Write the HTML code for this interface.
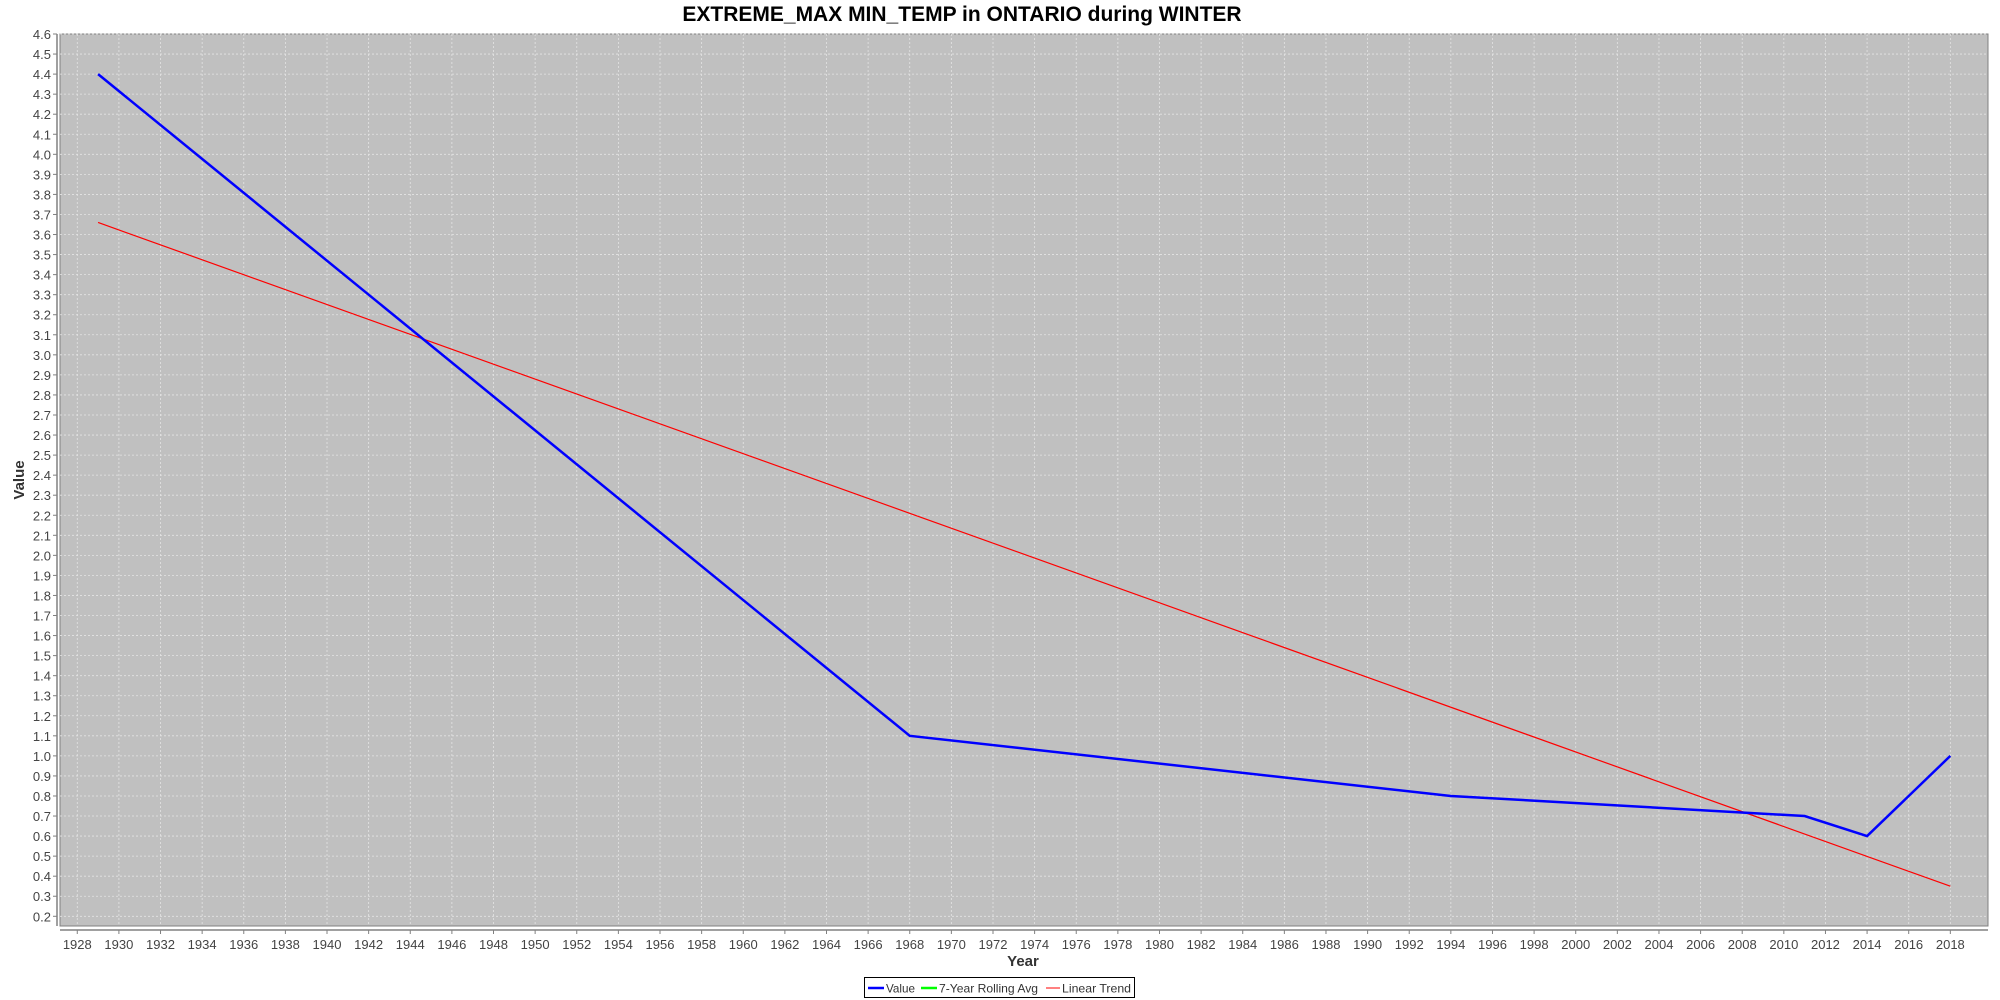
<!DOCTYPE html>
<html><head><meta charset="utf-8"><style>
html,body{margin:0;padding:0;background:#fff;}
svg{display:block;font-family:"Liberation Sans","DejaVu Sans",sans-serif;}
</style></head><body>
<svg id="chart" width="2000" height="1000">
<text x="962" y="21" text-anchor="middle" font-size="21" font-weight="bold" fill="#000">EXTREME_MAX MIN_TEMP in ONTARIO during WINTER</text>
<rect x="60" y="34" width="1928" height="892" fill="#c0c0c0" stroke="#808080" stroke-width="1"/>
<g id="grid"></g>
<line x1="57" y1="34" x2="57" y2="926" stroke="#808080" stroke-width="1.5"/>
<line x1="60" y1="930" x2="1988" y2="930" stroke="#808080" stroke-width="1.5"/>
<g id="yticks"></g><g id="xticks"></g><g id="series"></g>
<text x="1023" y="966" text-anchor="middle" font-size="15" font-weight="bold" fill="#333">Year</text>
<text transform="translate(24,480) rotate(-90)" text-anchor="middle" font-size="15" font-weight="bold" fill="#333">Value</text>
<g>
<rect x="864.5" y="977.5" width="270" height="20" fill="#fff" stroke="#000" stroke-width="1"/>
<g><line x1="868" y1="988" x2="884" y2="988" stroke="#0000ff" stroke-width="2.5"/><text x="886" y="992.5" font-size="12" fill="#333" textLength="29" lengthAdjust="spacingAndGlyphs">Value</text></g>
<g><line x1="921" y1="988" x2="937" y2="988" stroke="#00ff00" stroke-width="2.5"/><text x="939" y="992.5" font-size="12" fill="#333" textLength="99" lengthAdjust="spacingAndGlyphs">7-Year Rolling Avg</text></g>
<g><line x1="1046" y1="988" x2="1060" y2="988" stroke="#ff0000" stroke-width="1"/><text x="1062" y="992.5" font-size="12" fill="#333" textLength="69" lengthAdjust="spacingAndGlyphs">Linear Trend</text></g>
</g>
</svg>
<script>
const years=[1929,1968,1994,2011,2014,2018];
const values=[4.4,1.1,0.8,0.7,0.6,1.0];
const trendYears=[1929,2018];
const trendValues=[3.66,0.35];
const yTickLabels=["0.2","0.3","0.4","0.5","0.6","0.7","0.8","0.9","1.0","1.1","1.2","1.3","1.4","1.5","1.6","1.7","1.8","1.9","2.0","2.1","2.2","2.3","2.4","2.5","2.6","2.7","2.8","2.9","3.0","3.1","3.2","3.3","3.4","3.5","3.6","3.7","3.8","3.9","4.0","4.1","4.2","4.3","4.4","4.5","4.6"];
const xTickLabels=[];for(let y=1928;y<=2018;y+=2)xTickLabels.push(String(y));
const NS="http://www.w3.org/2000/svg";
const X0=60,X1=1988,Y0=926,Y1=34,xmin=1927.17,xmax=2019.81,ymin=0.1516,ymax=4.6;
function xs(v){return X0+(v-xmin)/(xmax-xmin)*(X1-X0);}
function ys(v){return Y0-(v-ymin)/(ymax-ymin)*(Y0-Y1);}
function mk(tag,attrs,parent){const e=document.createElementNS(NS,tag);for(const k in attrs)e.setAttribute(k,attrs[k]);parent.appendChild(e);return e;}
const grid=document.getElementById('grid'),yt=document.getElementById('yticks'),xt=document.getElementById('xticks'),ser=document.getElementById('series');
yTickLabels.forEach(l=>{const y=ys(parseFloat(l));
const g=mk('line',{x1:X0,x2:X1,y1:y,y2:y,stroke:'#e4e4e4','stroke-width':0.8,'stroke-dasharray':'2,2'},grid);


mk('line',{x1:53,x2:57,y1:y,y2:y,stroke:'#808080'},yt);
const t=mk('text',{x:51,y:y+5,'text-anchor':'end','font-size':13,fill:'#444'},yt);t.textContent=l;


});
xTickLabels.forEach(l=>{const x=xs(parseFloat(l));
const g=mk('line',{x1:x,x2:x,y1:Y1,y2:Y0,stroke:'#e4e4e4','stroke-width':0.8,'stroke-dasharray':'2,2'},grid);


mk('line',{x1:x,x2:x,y1:930,y2:934,stroke:'#808080'},xt);
const t=mk('text',{x:x,y:949,'text-anchor':'middle','font-size':13,fill:'#444'},xt);t.textContent=l;


});
const tr=mk('polyline',{points:trendYears.map((y,i)=>xs(y)+','+ys(trendValues[i])).join(' '),fill:'none',stroke:'#ff0000','stroke-width':1.2},ser);


const vl=mk('polyline',{points:years.map((y,i)=>xs(y)+','+ys(values[i])).join(' '),fill:'none',stroke:'#0000ff','stroke-width':2.5},ser);


</script>
</body></html>
